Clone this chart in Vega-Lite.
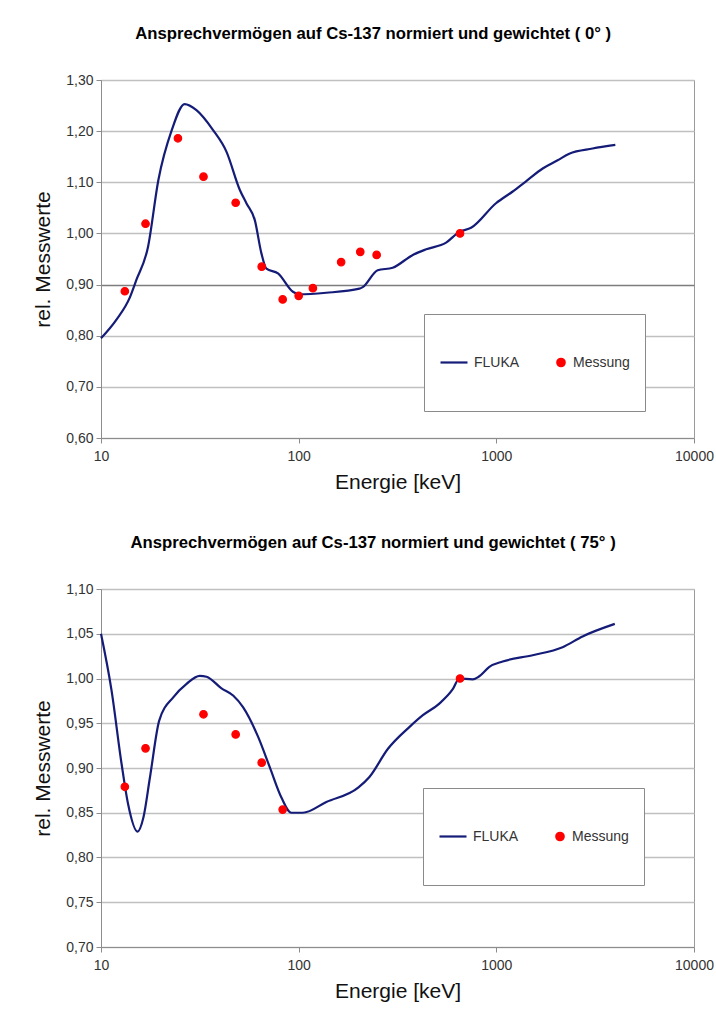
{
  "$schema": "https://vega.github.io/schema/vega-lite/v6.json",
  "background": "white",
  "padding": {"left": 32, "top": 25, "right": 5, "bottom": 5},
  "spacing": 41,
  "datasets": {
    "d0": [
      {"E": 10, "wert": 0.795, "serie": "FLUKA"},
      {"E": 12.0, "wert": 0.832, "serie": "FLUKA"},
      {"E": 14.0, "wert": 0.875, "serie": "FLUKA"},
      {"E": 15.1, "wert": 0.909, "serie": "FLUKA"},
      {"E": 17.3, "wert": 0.974, "serie": "FLUKA"},
      {"E": 19.5, "wert": 1.104, "serie": "FLUKA"},
      {"E": 22.8, "wert": 1.202, "serie": "FLUKA"},
      {"E": 26.5, "wert": 1.253, "serie": "FLUKA"},
      {"E": 30.4, "wert": 1.241, "serie": "FLUKA"},
      {"E": 36.9, "wert": 1.202, "serie": "FLUKA"},
      {"E": 43.1, "wert": 1.160, "serie": "FLUKA"},
      {"E": 50.4, "wert": 1.085, "serie": "FLUKA"},
      {"E": 54.4, "wert": 1.059, "serie": "FLUKA"},
      {"E": 60, "wert": 1.026, "serie": "FLUKA"},
      {"E": 64.8, "wert": 0.961, "serie": "FLUKA"},
      {"E": 68.7, "wert": 0.931, "serie": "FLUKA"},
      {"E": 78.6, "wert": 0.922, "serie": "FLUKA"},
      {"E": 93.5, "wert": 0.886, "serie": "FLUKA"},
      {"E": 100.5, "wert": 0.881, "serie": "FLUKA"},
      {"E": 138, "wert": 0.884, "serie": "FLUKA"},
      {"E": 203, "wert": 0.892, "serie": "FLUKA"},
      {"E": 211, "wert": 0.895, "serie": "FLUKA"},
      {"E": 251, "wert": 0.928, "serie": "FLUKA"},
      {"E": 299, "wert": 0.933, "serie": "FLUKA"},
      {"E": 378, "wert": 0.958, "serie": "FLUKA"},
      {"E": 442, "wert": 0.969, "serie": "FLUKA"},
      {"E": 557, "wert": 0.982, "serie": "FLUKA"},
      {"E": 650, "wert": 1.003, "serie": "FLUKA"},
      {"E": 745, "wert": 1.011, "serie": "FLUKA"},
      {"E": 996, "wert": 1.059, "serie": "FLUKA"},
      {"E": 1210, "wert": 1.082, "serie": "FLUKA"},
      {"E": 1413, "wert": 1.102, "serie": "FLUKA"},
      {"E": 1716, "wert": 1.127, "serie": "FLUKA"},
      {"E": 2042, "wert": 1.143, "serie": "FLUKA"},
      {"E": 2339, "wert": 1.156, "serie": "FLUKA"},
      {"E": 3068, "wert": 1.166, "serie": "FLUKA"},
      {"E": 4000, "wert": 1.173, "serie": "FLUKA"},
      {"E": 13.2, "wert": 0.887, "serie": "Messung"},
      {"E": 16.8, "wert": 1.019, "serie": "Messung"},
      {"E": 24.5, "wert": 1.186, "serie": "Messung"},
      {"E": 33, "wert": 1.111, "serie": "Messung"},
      {"E": 48, "wert": 1.060, "serie": "Messung"},
      {"E": 65, "wert": 0.935, "serie": "Messung"},
      {"E": 83, "wert": 0.871, "serie": "Messung"},
      {"E": 100, "wert": 0.878, "serie": "Messung"},
      {"E": 118, "wert": 0.893, "serie": "Messung"},
      {"E": 164, "wert": 0.944, "serie": "Messung"},
      {"E": 205, "wert": 0.964, "serie": "Messung"},
      {"E": 248, "wert": 0.958, "serie": "Messung"},
      {"E": 655, "wert": 1.000, "serie": "Messung"}
    ],
    "d75": [
      {"E": 10, "wert": 1.050, "serie": "FLUKA"},
      {"E": 11.3, "wert": 0.987, "serie": "FLUKA"},
      {"E": 12.7, "wert": 0.905, "serie": "FLUKA"},
      {"E": 13.7, "wert": 0.860, "serie": "FLUKA"},
      {"E": 15.3, "wert": 0.829, "serie": "FLUKA"},
      {"E": 16.4, "wert": 0.845, "serie": "FLUKA"},
      {"E": 17.7, "wert": 0.890, "serie": "FLUKA"},
      {"E": 19.7, "wert": 0.953, "serie": "FLUKA"},
      {"E": 23.2, "wert": 0.979, "serie": "FLUKA"},
      {"E": 27.1, "wert": 0.994, "serie": "FLUKA"},
      {"E": 31.6, "wert": 1.003, "serie": "FLUKA"},
      {"E": 34.2, "wert": 1.002, "serie": "FLUKA"},
      {"E": 40.7, "wert": 0.989, "serie": "FLUKA"},
      {"E": 46.6, "wert": 0.981, "serie": "FLUKA"},
      {"E": 52.3, "wert": 0.968, "serie": "FLUKA"},
      {"E": 62.3, "wert": 0.935, "serie": "FLUKA"},
      {"E": 71.4, "wert": 0.901, "serie": "FLUKA"},
      {"E": 81.8, "wert": 0.867, "serie": "FLUKA"},
      {"E": 91.8, "wert": 0.850, "serie": "FLUKA"},
      {"E": 105, "wert": 0.850, "serie": "FLUKA"},
      {"E": 138, "wert": 0.862, "serie": "FLUKA"},
      {"E": 200, "wert": 0.878, "serie": "FLUKA"},
      {"E": 228, "wert": 0.890, "serie": "FLUKA"},
      {"E": 283, "wert": 0.9215, "serie": "FLUKA"},
      {"E": 364, "wert": 0.946, "serie": "FLUKA"},
      {"E": 425, "wert": 0.959, "serie": "FLUKA"},
      {"E": 515, "wert": 0.972, "serie": "FLUKA"},
      {"E": 602, "wert": 0.988, "serie": "FLUKA"},
      {"E": 650, "wert": 1.000, "serie": "FLUKA"},
      {"E": 759, "wert": 0.999, "serie": "FLUKA"},
      {"E": 820, "wert": 1.0025, "serie": "FLUKA"},
      {"E": 922, "wert": 1.013, "serie": "FLUKA"},
      {"E": 1077, "wert": 1.019, "serie": "FLUKA"},
      {"E": 1527, "wert": 1.026, "serie": "FLUKA"},
      {"E": 2163, "wert": 1.035, "serie": "FLUKA"},
      {"E": 2730, "wert": 1.047, "serie": "FLUKA"},
      {"E": 3975, "wert": 1.061, "serie": "FLUKA"},
      {"E": 13.2, "wert": 0.879, "serie": "Messung"},
      {"E": 16.8, "wert": 0.922, "serie": "Messung"},
      {"E": 33, "wert": 0.960, "serie": "Messung"},
      {"E": 48, "wert": 0.9375, "serie": "Messung"},
      {"E": 65, "wert": 0.906, "serie": "Messung"},
      {"E": 83, "wert": 0.8535, "serie": "Messung"},
      {"E": 655, "wert": 1.000, "serie": "Messung"}
    ]
  },
  "resolve": {
    "scale": {"x": "independent", "y": "independent", "stroke": "independent", "shape": "independent", "size": "independent"},
    "legend": {"stroke": "independent", "shape": "independent", "size": "independent"}
  },
  "vconcat": [
    {
      "title": {"text": "Ansprechvermögen auf Cs-137 normiert und gewichtet ( 0° )"},
      "width": 593,
      "height": 358,
      "data": {"name": "d0"},
      "layer": [
        {
          "transform": [{"filter": "datum.serie === 'FLUKA'"}],
          "mark": {"type": "line", "interpolate": "monotone", "strokeWidth": 2.2, "color": "#141c78"},
          "encoding": {
            "x": {
              "field": "E", "type": "quantitative",
              "scale": {"type": "log", "domain": [10, 10000], "nice": false},
              "axis": {"title": "Energie [keV]", "values": [10, 100, 1000, 10000], "labelExpr": "format(datum.value, 'd')", "grid": false, "labelPadding": 6, "titlePadding": 8, "labelFlush": false, "labelOverlap": false}
            },
            "y": {
              "field": "wert", "type": "quantitative",
              "scale": {"domain": [0.6, 1.3], "nice": false, "zero": false},
              "axis": {
                "title": "rel. Messwerte",
                "values": [0.6, 0.7, 0.8, 0.9, 1.0, 1.1, 1.2, 1.3],
                "labelExpr": "replace(format(datum.value, '.2f'), '.', ',')",
                "gridColor": {"condition": {"test": "abs(datum.value - 0.9) < 0.0001", "value": "#7d7d7d"}, "value": "#c0c0c0"}
              }
            }
          }
        },
        {
          "transform": [{"filter": "datum.serie === 'Messung'"}],
          "mark": {"type": "point", "filled": true, "fill": "#ff0000", "strokeWidth": 1.2, "opacity": 1},
          "encoding": {
            "x": {"field": "E", "type": "quantitative"},
            "y": {"field": "wert", "type": "quantitative"},
            "stroke": {
              "field": "serie", "type": "nominal",
              "scale": {"domain": ["FLUKA", "Messung"], "range": ["#141c78", "#ff0000"]},
              "legend": {"legendX": 323, "legendY": 234}
            },
            "shape": {
              "field": "serie", "type": "nominal",
              "scale": {"domain": ["FLUKA", "Messung"], "range": ["stroke", "circle"]},
              "legend": {"legendX": 323, "legendY": 234}
            },
            "size": {
              "field": "serie", "type": "nominal",
              "scale": {"domain": ["FLUKA", "Messung"], "range": [729, 56]},
              "legend": {"legendX": 323, "legendY": 234}
            }
          }
        }
      ]
    },
    {
      "title": {"text": "Ansprechvermögen auf Cs-137 normiert und gewichtet ( 75° )"},
      "width": 593,
      "height": 358,
      "data": {"name": "d75"},
      "layer": [
        {
          "transform": [{"filter": "datum.serie === 'FLUKA'"}],
          "mark": {"type": "line", "interpolate": "monotone", "strokeWidth": 2.2, "color": "#141c78"},
          "encoding": {
            "x": {
              "field": "E", "type": "quantitative",
              "scale": {"type": "log", "domain": [10, 10000], "nice": false},
              "axis": {"title": "Energie [keV]", "values": [10, 100, 1000, 10000], "labelExpr": "format(datum.value, 'd')", "grid": false, "labelPadding": 6, "titlePadding": 8, "labelFlush": false, "labelOverlap": false}
            },
            "y": {
              "field": "wert", "type": "quantitative",
              "scale": {"domain": [0.7, 1.1], "nice": false, "zero": false},
              "axis": {
                "title": "rel. Messwerte",
                "values": [0.7, 0.75, 0.8, 0.85, 0.9, 0.95, 1.0, 1.05, 1.1],
                "labelExpr": "replace(format(datum.value, '.2f'), '.', ',')"
              }
            }
          }
        },
        {
          "transform": [{"filter": "datum.serie === 'Messung'"}],
          "mark": {"type": "point", "filled": true, "fill": "#ff0000", "strokeWidth": 1.2, "opacity": 1},
          "encoding": {
            "x": {"field": "E", "type": "quantitative"},
            "y": {"field": "wert", "type": "quantitative"},
            "stroke": {
              "field": "serie", "type": "nominal",
              "scale": {"domain": ["FLUKA", "Messung"], "range": ["#141c78", "#ff0000"]},
              "legend": {"legendX": 322, "legendY": 199}
            },
            "shape": {
              "field": "serie", "type": "nominal",
              "scale": {"domain": ["FLUKA", "Messung"], "range": ["stroke", "circle"]},
              "legend": {"legendX": 322, "legendY": 199}
            },
            "size": {
              "field": "serie", "type": "nominal",
              "scale": {"domain": ["FLUKA", "Messung"], "range": [729, 56]},
              "legend": {"legendX": 322, "legendY": 199}
            }
          }
        }
      ]
    }
  ],
  "config": {
    "font": "Liberation Sans",
    "view": {"stroke": "#9a9a9a", "strokeWidth": 1},
    "axis": {
      "labelFont": "Liberation Sans", "labelFontSize": 14, "labelColor": "#333333",
      "titleFont": "Liberation Sans", "titleFontSize": 21, "titleFontWeight": "normal", "titleColor": "#111111",
      "domainColor": "#8c8c8c", "tickColor": "#8c8c8c", "tickSize": 5,
      "gridColor": "#c0c0c0", "gridWidth": 1.5
    },
    "axisY": {"labelPadding": 3, "titlePadding": 12},
    "title": {"font": "Liberation Sans", "fontSize": 16.7, "fontWeight": "bold", "color": "#000000", "anchor": "middle", "frame": "bounds", "offset": 30},
    "legend": {
      "orient": "none",
      "direction": "horizontal",
      "title": null,
      "padding": 15,
      "clipHeight": 67,
      "columnPadding": 34,
      "labelOffset": 5,
      "symbolStrokeWidth": 2.2,
      "labelFont": "Liberation Sans",
      "labelFontSize": 14,
      "labelColor": "#333333",
      "strokeColor": "#8a8a8a",
      "fillColor": "#ffffff",
      "cornerRadius": 0
    }
  }
}
